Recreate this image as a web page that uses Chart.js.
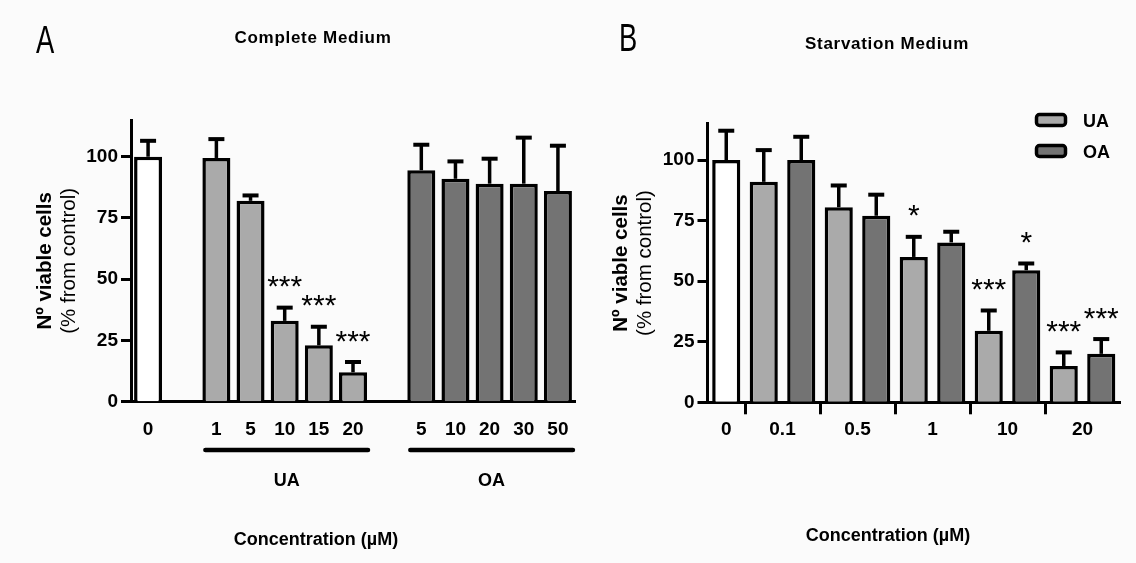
<!DOCTYPE html>
<html>
<head>
<meta charset="utf-8">
<script src="https://cdn.jsdelivr.net/npm/chart.js@4.4.1/dist/chart.umd.min.js"></script>
<style>
html, body { margin: 0; padding: 0; background: #fbfbfb; }
#wrap { position: relative; width: 1136px; height: 563px; overflow: hidden; }
canvas { position: absolute; top: 0; }
#chartA { left: 0; }
#chartB { left: 590px; }
</style>
</head>
<body>
<div id="wrap">
  <canvas id="chartA" width="590" height="563"></canvas>
  <canvas id="chartB" width="546" height="563"></canvas>
</div>
<script>
// ---- panel A: complete medium ----
var ctrlLabel = '0';
var concA_UA = ['1', '5', '10', '15', '20'];
var concA_OA = ['5', '10', '20', '30', '50'];
var ctrlA = 100, ctrlA_sem = 6.5;
var meanA_UA = [99.5, 82, 33, 23, 12];
var semA_UA = [7.7, 2.2, 5.4, 7.6, 4.2];
var meanA_OA = [94.5, 91, 89, 89, 86];
var semA_OA = [10.4, 7.1, 10.2, 18.8, 18.5];
var starsA_UA = ['', '', '***', '***', '***'];
var starsA_OA = ['', '', '', '', ''];

// ---- panel B: starvation medium ----
var concB = ['0.1', '0.5', '1', '10', '20'];
var ctrlB = 100, ctrlB_sem = 12.1;
var meanB_UA = [91, 80.5, 60, 29.5, 15];
var semB_UA = [13.1, 9, 8.3, 8.4, 5.6];
var meanB_OA = [100, 77, 66, 54.5, 20];
var semB_OA = [9.6, 8.7, 4.4, 2.8, 6.1];
var starsB_UA = ['', '', '*', '***', '***'];
var starsB_OA = ['', '', '', '*', '***'];

var yTicks = [0, 25, 50, 75, 100];
var yMax = 115;

var FONT = '"Liberation Sans", Arial, Helvetica, sans-serif';
var colCtrl = '#ffffff', colUA = '#aaaaaa', colOA = '#737373';

Chart.defaults.font.family = FONT;
Chart.defaults.color = '#000';

// build panel A slots (empty slot between groups)
var labelsA = [ctrlLabel, ''].concat(concA_UA, [''], concA_OA);
var valuesA = [ctrlA, null].concat(meanA_UA, [null], meanA_OA);
var semA = [ctrlA_sem, null].concat(semA_UA, [null], semA_OA);
var starA = ['', ''].concat(starsA_UA, [''], starsA_OA);
var colorsA = [colCtrl, colCtrl].concat(concA_UA.map(function() { return colUA; }), [colUA], concA_OA.map(function() { return colOA; }));
var uaFirstA = 2, uaLastA = 1 + concA_UA.length;
var oaFirstA = uaLastA + 2, oaLastA = oaFirstA + concA_OA.length - 1;

// build panel B slots (one slot per bar)
var slotLabelsB = [ctrlLabel], valuesB = [ctrlB], semB = [ctrlB_sem], starB = [''], colorsB = [colCtrl];
var tickPosB = [0], tickLabB = [ctrlLabel], boundB = [];
concB.forEach(function(c, i) {
  var s = slotLabelsB.length;
  boundB.push(s);
  tickPosB.push(s + 0.5);
  tickLabB.push(c);
  slotLabelsB.push(c + ' UA', c + ' OA');
  valuesB.push(meanB_UA[i], meanB_OA[i]);
  semB.push(semB_UA[i], semB_OA[i]);
  starB.push(starsB_UA[i], starsB_OA[i]);
  colorsB.push(colUA, colOA);
});

var tickFont = { family: FONT, size: 19, weight: 'bold' };

var errorBars = {
  id: 'errorBars',
  afterDatasetsDraw: function(chart) {
    var ctx = chart.ctx, y = chart.scales.y;
    chart.data.datasets.forEach(function(ds, di) {
      var meta = chart.getDatasetMeta(di);
      meta.data.forEach(function(bar, i) {
        var v = ds.data[i];
        if (v == null) return;
        var top = y.getPixelForValue(v + ds.sem[i]);
        ctx.save();
        ctx.strokeStyle = '#000';
        ctx.lineWidth = 3.5;
        ctx.beginPath();
        ctx.moveTo(bar.x, bar.y);
        ctx.lineTo(bar.x, top);
        ctx.stroke();
        ctx.lineWidth = 4;
        ctx.beginPath();
        ctx.moveTo(bar.x - 8, top);
        ctx.lineTo(bar.x + 8, top);
        ctx.stroke();
        if (ds.stars[i]) {
          ctx.font = '30px ' + FONT;
          ctx.fillStyle = '#000';
          ctx.textAlign = 'center';
          ctx.textBaseline = 'alphabetic';
          var m = ctx.measureText('*');
          var mid = (m.actualBoundingBoxAscent - m.actualBoundingBoxDescent) / 2;
          ctx.fillText(ds.stars[i], bar.x, top - 26 + mid);
        }
        ctx.restore();
      });
    });
  }
};

function drawLetter(ctx, txt, x, base) {
  ctx.save();
  ctx.translate(x, base);
  ctx.scale(0.72, 1);
  ctx.font = '38px ' + FONT;
  ctx.fillStyle = '#000';
  ctx.textAlign = 'left';
  ctx.textBaseline = 'alphabetic';
  ctx.fillText(txt, 0, 0);
  ctx.restore();
}

function drawText(ctx, txt, x, base, font) {
  ctx.save();
  ctx.font = font;
  ctx.fillStyle = '#000';
  ctx.textAlign = 'center';
  ctx.textBaseline = 'alphabetic';
  ctx.fillText(txt, x, base);
  ctx.restore();
}

function drawYTitle(chart) {
  var ctx = chart.ctx, a = chart.chartArea;
  var cy = (a.top + a.bottom) / 2;
  ctx.save();
  ctx.fillStyle = '#000';
  ctx.textAlign = 'center';
  ctx.textBaseline = 'middle';
  ctx.translate(a.left - 86, cy);
  ctx.rotate(-Math.PI / 2);
  ctx.font = 'bold 20.5px ' + FONT;
  ctx.fillText('Nº viable cells', 0, 0);
  ctx.restore();
  ctx.save();
  ctx.fillStyle = '#000';
  ctx.textAlign = 'center';
  ctx.textBaseline = 'middle';
  ctx.translate(a.left - 62, cy);
  ctx.rotate(-Math.PI / 2);
  ctx.font = '20.5px ' + FONT;
  ctx.fillText('(% from control)', 0, 0);
  ctx.restore();
}

function drawTitle(ctx, txt, x, base) {
  ctx.save();
  ctx.font = 'bold 17px ' + FONT;
  ctx.letterSpacing = '0.7px';
  ctx.fillStyle = '#000';
  ctx.textAlign = 'center';
  ctx.fillText(txt, x, base);
  ctx.restore();
}

var decoA = {
  id: 'decoA',
  afterDraw: function(chart) {
    var ctx = chart.ctx;
    var meta = chart.getDatasetMeta(0);
    drawLetter(ctx, 'A', 36, 53);
    drawTitle(ctx, 'Complete Medium', 313, 43);
    drawYTitle(chart);
    [[uaFirstA, uaLastA, 'UA'], [oaFirstA, oaLastA, 'OA']].forEach(function(g) {
      var b1 = meta.data[g[0]], b2 = meta.data[g[1]];
      var x1 = b1.x - b1.width / 2 + 3, x2 = b2.x + b2.width / 2 + 1;
      ctx.save();
      ctx.strokeStyle = '#000';
      ctx.lineWidth = 4.5;
      ctx.lineCap = 'round';
      ctx.beginPath();
      ctx.moveTo(x1, 450);
      ctx.lineTo(x2, 450);
      ctx.stroke();
      ctx.restore();
      drawText(ctx, g[2], (x1 + x2) / 2, 486, 'bold 18px ' + FONT);
    });
    drawText(ctx, 'Concentration (µM)', 316, 545, 'bold 18px ' + FONT);
  }
};

var decoB = {
  id: 'decoB',
  afterDraw: function(chart) {
    var ctx = chart.ctx;
    drawLetter(ctx, 'B', 29, 51);
    drawTitle(ctx, 'Starvation Medium', 297, 49);
    drawYTitle(chart);
    drawText(ctx, 'Concentration (µM)', 298, 541, 'bold 18px ' + FONT);
    // legend
    [['UA', colUA, 120], ['OA', colOA, 151]].forEach(function(it) {
      ctx.save();
      ctx.fillStyle = it[1];
      ctx.strokeStyle = '#000';
      ctx.lineWidth = 3.5;
      ctx.beginPath();
      ctx.roundRect(446.5, it[2] - 5.5, 29, 11, 3);
      ctx.fill();
      ctx.stroke();
      ctx.font = 'bold 18px ' + FONT;
      ctx.fillStyle = '#000';
      ctx.textAlign = 'left';
      ctx.fillText(it[0], 493, it[2] + 6.5);
      ctx.restore();
    });
  }
};

function yScale(width) {
  return {
    min: 0,
    max: yMax,
    afterBuildTicks: function(s) { s.ticks = yTicks.map(function(v) { return { value: v }; }); },
    grid: { drawOnChartArea: false, tickLength: 10, tickWidth: 3, color: '#000' },
    border: { color: '#000', width: 3 },
    ticks: { color: '#000', font: tickFont, padding: 3 },
    afterFit: function(s) { s.width = width; }
  };
}

new Chart(document.getElementById('chartA').getContext('2d'), {
  type: 'bar',
  data: {
    labels: labelsA,
    datasets: [{
      data: valuesA, sem: semA, stars: starA,
      backgroundColor: colorsA, borderColor: '#000', borderWidth: 3.5,
      barPercentage: 0.82, categoryPercentage: 1
    }]
  },
  options: {
    responsive: false, animation: false, devicePixelRatio: 1,
    layout: { padding: { top: 120, right: 15, left: 0, bottom: 0 } },
    plugins: { legend: { display: false }, tooltip: { enabled: false } },
    scales: {
      x: {
        offset: true,
        grid: { display: false },
        border: { display: true, color: '#000', width: 3 },
        ticks: { color: '#000', font: tickFont, padding: 8.5, autoSkip: false, maxRotation: 0 },
        afterFit: function(s) { s.height = 563 - 401.7; }
      },
      y: yScale(131)
    }
  },
  plugins: [errorBars, decoA]
});

new Chart(document.getElementById('chartB').getContext('2d'), {
  type: 'bar',
  data: {
    labels: slotLabelsB,
    datasets: [{
      data: valuesB, sem: semB, stars: starB,
      backgroundColor: colorsB, borderColor: '#000', borderWidth: 3.5,
      barPercentage: 0.75, categoryPercentage: 1
    }]
  },
  options: {
    responsive: false, animation: false, devicePixelRatio: 1,
    layout: { padding: { top: 123.7, right: 16, left: 0, bottom: 0 } },
    plugins: { legend: { display: false }, tooltip: { enabled: false } },
    scales: {
      x: {
        offset: true,
        weight: 0,
        grid: {
          offset: true, drawOnChartArea: false, tickLength: 12, tickWidth: 3,
          color: function(c) { return boundB.indexOf(c.index) >= 0 ? '#000' : 'rgba(0,0,0,0)'; }
        },
        border: { display: true, color: '#000', width: 3 },
        ticks: { display: false },
        afterFit: function(s) { s.height = 6; }
      },
      x2: {
        type: 'linear',
        position: 'bottom',
        weight: 1,
        offset: false,
        min: -0.5,
        max: slotLabelsB.length - 0.5,
        afterBuildTicks: function(s) { s.ticks = tickPosB.map(function(v) { return { value: v }; }); },
        grid: { display: false, offset: false },
        border: { display: false },
        ticks: {
          color: '#000', font: tickFont, padding: 2.5, autoSkip: false, maxRotation: 0,
          callback: function(v, i) { return tickLabB[i]; }
        },
        afterFit: function(s) { s.height = 563 - 402.3 - 6; }
      },
      y: yScale(117.5)
    }
  },
  plugins: [errorBars, decoB]
});
</script>
</body>
</html>
